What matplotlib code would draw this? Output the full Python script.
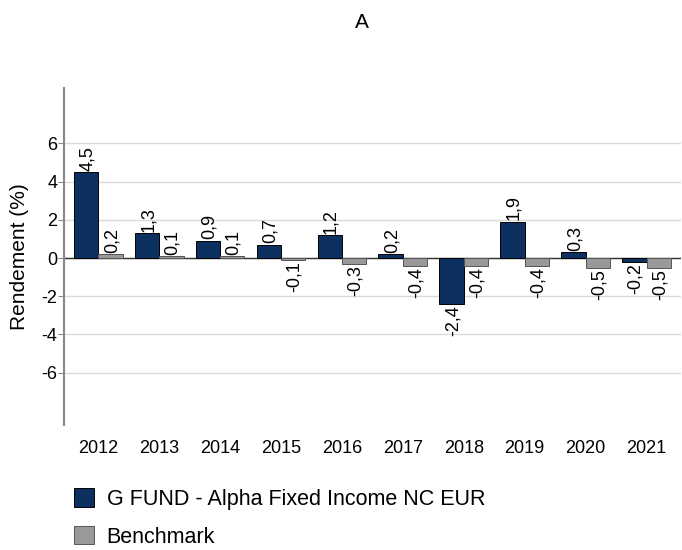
import numpy as np
import matplotlib.pyplot as plt

plt.rcParams['font.family'] = ['Liberation Sans', 'DejaVu Sans']

# data
years = ['2012', '2013', '2014', '2015', '2016', '2017', '2018', '2019', '2020', '2021']
fund = [4.5, 1.3, 0.9, 0.7, 1.2, 0.2, -2.4, 1.9, 0.3, -0.2]
bench = [0.2, 0.1, 0.1, -0.1, -0.3, -0.4, -0.4, -0.4, -0.5, -0.5]
yticks = [-6, -4, -2, 0, 2, 4, 6]

fund_color = '#0c3060'
bench_color = '#999999'

fig = plt.figure(figsize=(6.82, 5.5), dpi=100)
ax = fig.add_axes([0.094, 0.227, 0.904, 0.613])

x = np.arange(len(years))
w = 0.4
b1 = ax.bar(x - w / 2, fund, w, color=fund_color, edgecolor='black', linewidth=0.7,
            label='G FUND - Alpha Fixed Income NC EUR', zorder=3)
b2 = ax.bar(x + w / 2, bench, w, color=bench_color, edgecolor='#555555', linewidth=0.7,
            label='Benchmark', zorder=3)

def fmt(v):
    return f'{v:.1f}'.replace('.', ',')

for bars, vals in [(b1, fund), (b2, bench)]:
    for bar, v in zip(bars, vals):
        cx = bar.get_x() + bar.get_width() / 2
        if v >= 0:
            ax.annotate(fmt(v), (cx, v), xytext=(1, 1), textcoords='offset points',
                        rotation=90, ha='center', va='bottom', fontsize=13, zorder=4)
        else:
            ax.annotate(fmt(v), (cx, v), xytext=(1, -1), textcoords='offset points',
                        rotation=90, ha='center', va='top', fontsize=13, zorder=4)

ax.set_xlim(-0.56, len(years) - 0.44)
ax.set_ylim(-8.75, 8.9)
ax.set_yticks(yticks)
ax.set_yticklabels([str(t) for t in yticks], fontsize=13)
ax.set_xticks(x)
ax.set_xticklabels(years, fontsize=13)
ax.tick_params(axis='x', length=0, pad=11)
ax.tick_params(axis='y', length=4, color='#888888', pad=1)
ax.grid(axis='y', color='#d9d9d9', linewidth=1, zorder=0)
ax.axhline(0, color='#333333', linewidth=1, zorder=2)

for s in ['top', 'right', 'bottom']:
    ax.spines[s].set_visible(False)
ax.spines['left'].set_color('#888888')
ax.spines['left'].set_linewidth(1.5)

ax.set_ylabel('Rendement (%)', fontsize=15, labelpad=9)

fig.text(0.53, 0.96, 'A', ha='center', va='center', fontsize=15)

fig.legend(handles=[b1, b2], loc='upper left', bbox_to_anchor=(0.108, 0.112),
           frameon=False, fontsize=15.5, handlelength=0.93, handleheight=0.93,
           handletextpad=0.6, labelspacing=0.75, borderaxespad=0, borderpad=0)

fig.savefig('out.png', dpi=100)
